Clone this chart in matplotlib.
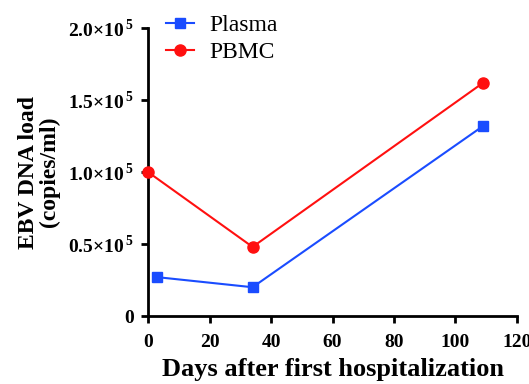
import matplotlib
matplotlib.use("Agg")
import matplotlib.pyplot as plt
from matplotlib.ticker import FuncFormatter, MultipleLocator

plt.rcParams['font.family'] = ['Liberation Serif', 'DejaVu Serif']
plt.rcParams['mathtext.fontset'] = 'custom'
plt.rcParams['mathtext.rm'] = 'Liberation Serif:bold'
plt.rcParams['mathtext.bf'] = 'Liberation Serif:bold'

# data
plasma_days = [3, 34, 109]
plasma_load = [27000, 20000, 132000]
pbmc_days = [0, 34, 109]
pbmc_load = [100000, 48000, 162000]

fig = plt.figure(figsize=(5.29, 3.84), dpi=100)
ax = fig.add_axes([0.2798, 0.177, 0.6975, 0.75])

ax.plot(plasma_days, plasma_load, color='#1a4cff', lw=1.5, marker='s',
        markersize=7, label='Plasma', clip_on=False, zorder=3)
ax.plot(pbmc_days, pbmc_load, color='#ff1010', lw=1.5, marker='o',
        markersize=8, label='PBMC', clip_on=False, zorder=3)

ax.set_xlim(0, 120)
ax.set_ylim(0, 200000)
ax.xaxis.set_major_locator(MultipleLocator(20))
ax.yaxis.set_major_locator(MultipleLocator(50000))


def yfmt(v, pos):
    if v == 0:
        return '0'
    return r'$%.1f{\times}10^{\,5}$' % (v / 1e5)


ax.yaxis.set_major_formatter(FuncFormatter(yfmt))

for s in ['top', 'right']:
    ax.spines[s].set_visible(False)
for s in ['left', 'bottom']:
    ax.spines[s].set_linewidth(2)
ax.tick_params(width=2, length=5, direction='out', labelsize=14)
ax.tick_params(axis='x', pad=8)
ax.tick_params(axis='y', pad=5)
for lab in ax.get_xticklabels() + ax.get_yticklabels():
    lab.set_fontweight('bold')

ax.set_xlabel('Days after first hospitalization', fontsize=19, fontweight='bold', labelpad=5)
ax.set_ylabel('EBV DNA load\n(copies/ml)', fontsize=17, fontweight='bold',
              labelpad=6, linespacing=1.0)

ax.legend(loc='upper left', bbox_to_anchor=(0.022, 1.08), frameon=False,
          fontsize=17, handlelength=1.2, handletextpad=0.65, borderaxespad=0,
          labelspacing=0.25)

fig.savefig('out.png', dpi=100)
